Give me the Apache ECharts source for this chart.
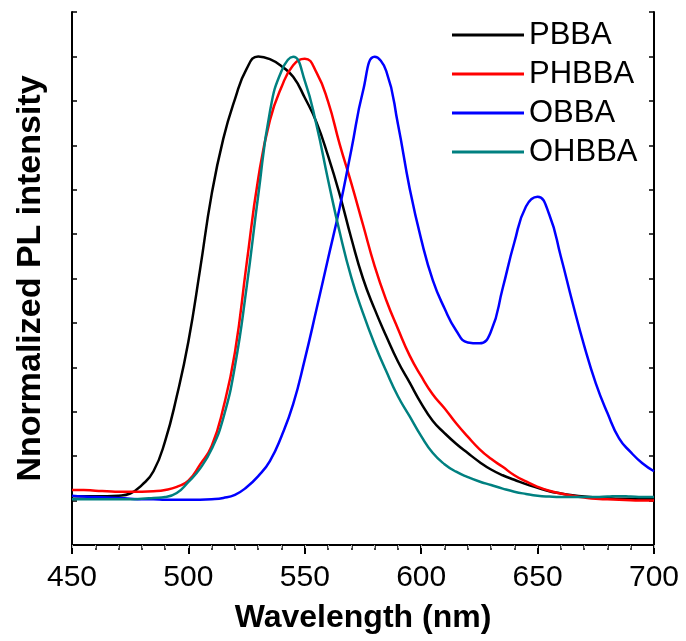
<!DOCTYPE html>
<html>
<head>
<meta charset="utf-8">
<script src="https://cdn.jsdelivr.net/npm/echarts@6/dist/echarts.min.js"></script>
<style>
html,body{margin:0;padding:0;background:#fff;}
#chart{width:686px;height:641px;}
</style>
</head>
<body>
<div id="chart"></div>
<script>
// wavelength grid (nm)
var wavelength = [450,455,460,465,470,475,480,485,490,495,500,505,510,515,520,525,530,535,540,545,550,555,560,565,570,575,580,585,590,595,600,605,610,615,620,625,630,635,640,645,650,655,660,665,670,675,680,685,690,695,700];

var pbba  = [0.110,0.110,0.110,0.110,0.111,0.116,0.135,0.166,0.234,0.335,0.458,0.620,0.790,0.915,1.004,1.072,1.100,1.094,1.078,1.054,1.007,0.952,0.876,0.789,0.690,0.600,0.531,0.470,0.413,0.366,0.319,0.279,0.252,0.228,0.207,0.187,0.170,0.157,0.147,0.137,0.129,0.121,0.116,0.112,0.109,0.107,0.106,0.104,0.104,0.103,0.103];
var phbba = [0.124,0.124,0.122,0.121,0.120,0.120,0.120,0.121,0.124,0.131,0.145,0.181,0.223,0.309,0.434,0.633,0.825,0.956,1.031,1.080,1.095,1.064,0.998,0.902,0.814,0.721,0.628,0.551,0.487,0.427,0.380,0.339,0.308,0.274,0.244,0.216,0.194,0.176,0.157,0.143,0.131,0.122,0.116,0.111,0.107,0.104,0.103,0.102,0.101,0.100,0.100];
var obba  = [0.111,0.109,0.108,0.107,0.106,0.104,0.103,0.103,0.102,0.102,0.102,0.102,0.103,0.106,0.113,0.130,0.155,0.189,0.245,0.317,0.418,0.530,0.645,0.760,0.890,1.022,1.099,1.067,0.948,0.804,0.688,0.596,0.533,0.483,0.456,0.454,0.481,0.578,0.681,0.762,0.784,0.744,0.649,0.546,0.449,0.364,0.297,0.240,0.209,0.184,0.166];
var ohbba = [0.103,0.103,0.103,0.103,0.103,0.103,0.104,0.106,0.108,0.117,0.142,0.172,0.216,0.286,0.403,0.580,0.787,0.975,1.067,1.099,1.045,0.946,0.822,0.704,0.602,0.522,0.452,0.391,0.335,0.290,0.245,0.207,0.182,0.165,0.153,0.143,0.135,0.127,0.120,0.115,0.111,0.109,0.108,0.108,0.108,0.108,0.109,0.110,0.109,0.108,0.108];

var names  = ['PBBA','PHBBA','OBBA','OHBBA'];
var colors = ['#000000','#ff0000','#0000ff','#008080'];
var values = [pbba, phbba, obba, ohbba];

var font = '"Liberation Sans", Arial, sans-serif';

function pairs(ys) {
    return wavelength.map(function (w, i) { return [w, ys[i]]; });
}

var myChart = echarts.init(document.getElementById('chart'));

var series = names.map(function (n, k) {
    return {
        name: n,
        type: 'line',
        symbol: 'none',
        smooth: 0.5,
        lineStyle: { color: colors[k], width: 2.5 },
        itemStyle: { color: colors[k] },
        data: pairs(values[k])
    };
});

var option = {
    animation: false,
    backgroundColor: '#fff',
    textStyle: { fontFamily: font },
    grid: { left: 72, top: 12, width: 582, height: 533 },
    legend: {
        data: names,
        orient: 'vertical',
        left: 452,
        top: 18,
        padding: 0,
        itemGap: 5,
        icon: 'rect',
        itemWidth: 72,
        itemHeight: 3,
        textStyle: { fontSize: 31, lineHeight: 34, color: '#000', fontFamily: font }
    },
    xAxis: [{
        type: 'value',
        position: 'bottom',
        min: 450,
        max: 700,
        interval: 50,
        name: 'Wavelength (nm)',
        nameLocation: 'middle',
        nameGap: 57,
        nameTextStyle: { fontSize: 32, fontWeight: 'bold', color: '#000', fontFamily: font },
        axisLine: { show: true, lineStyle: { color: '#000', width: 2 } },
        axisTick: { show: true, inside: false, length: 9, lineStyle: { color: '#000', width: 2 } },
        minorTick: { show: true, splitNumber: 5, length: 5, lineStyle: { color: '#000', width: 1.5 } },
        axisLabel: { fontSize: 30, color: '#000', margin: 18, fontFamily: font },
        splitLine: { show: false }
    }, {
        type: 'value',
        position: 'top',
        min: 450,
        max: 700,
        interval: 10,
        axisLine: { show: true, lineStyle: { color: '#000', width: 2 } },
        axisTick: { show: true, inside: true, length: 3, lineStyle: { color: '#bbb', width: 1 } },
        axisLabel: { show: false },
        splitLine: { show: false }
    }],
    yAxis: [{
        type: 'value',
        position: 'left',
        min: 0,
        max: 1.2,
        interval: 0.1,
        name: 'Nnormalized PL intensity',
        nameLocation: 'middle',
        nameGap: 24,
        nameTextStyle: { fontSize: 34, fontWeight: 'bold', color: '#000', fontFamily: font },
        axisLine: { show: true, lineStyle: { color: '#000', width: 2 } },
        axisTick: { show: true, inside: true, length: 5, lineStyle: { color: '#000', width: 1.5 } },
        axisLabel: { show: false },
        splitLine: { show: false }
    }, {
        type: 'value',
        position: 'right',
        min: 0,
        max: 1.2,
        interval: 0.1,
        axisLine: { show: true, lineStyle: { color: '#000', width: 2 } },
        axisTick: { show: true, inside: true, length: 5, lineStyle: { color: '#000', width: 1.5 } },
        axisLabel: { show: false },
        splitLine: { show: false }
    }],
    series: series
};

myChart.setOption(option);
window.addEventListener("resize", function () {
    myChart.resize();
});
</script>
</body>
</html>
